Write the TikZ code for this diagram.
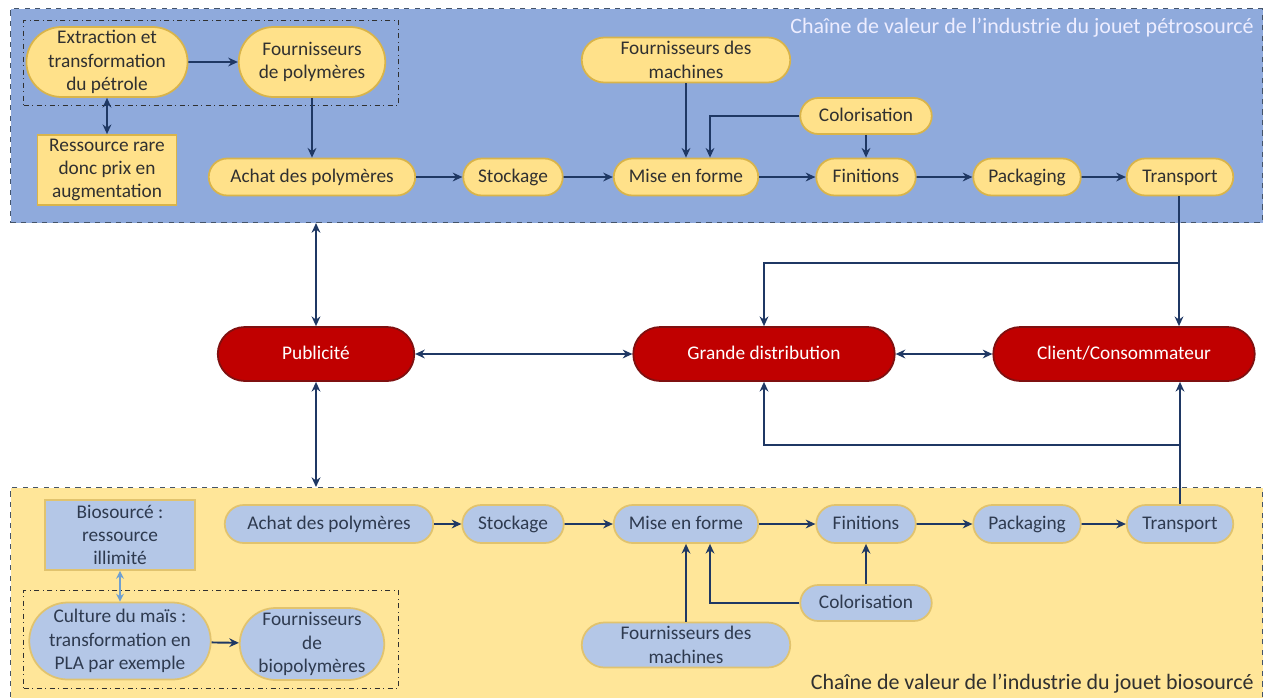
\documentclass[tikz,border=0pt]{standalone}
\usepackage{fontspec}
\setmainfont{Carlito}
\usetikzlibrary{arrows.meta,shapes.misc,calc}

\definecolor{panelblue}{HTML}{8FAADC}
\definecolor{panelyellow}{HTML}{FFE699}
\definecolor{nodeyellow}{HTML}{FFE18A}
\definecolor{nodegold}{HTML}{D9B44A}
\definecolor{nodeblue}{HTML}{B4C7E7}
\definecolor{redfill}{HTML}{C00000}
\definecolor{redline}{HTML}{7F1010}
\definecolor{navy}{HTML}{1F3864}
\definecolor{lightarrow}{HTML}{6FA0D0}
\definecolor{darktext}{HTML}{303030}
\definecolor{bluetext}{HTML}{2E3A4F}
\definecolor{frameline}{HTML}{44546A}

\tikzset{
  x=0.02cm, y=-0.02cm,
  basefont/.style={font=\fontsize{11}{13.3}\selectfont, align=center, inner sep=1pt},
  one/.style={text height=0.7em, text depth=0.1em},
  pill/.style={basefont, rounded rectangle, line width=1pt},
  ypill/.style={pill, fill=nodeyellow, draw=nodegold, text=darktext},
  bpill/.style={pill, fill=nodeblue, draw=nodegold!80!white, text=bluetext},
  ybox/.style={basefont, rectangle, fill=nodeyellow, draw=nodegold, line width=1pt, text=darktext},
  bbox/.style={basefont, rectangle, fill=nodeblue, draw=nodegold!80!white, line width=1pt, text=bluetext},
  rpill/.style={pill, one, fill=redfill, draw=redline, text=white},
  panel/.style={rectangle, draw=frameline, dashed, line width=0.6pt, inner sep=0pt},
  group/.style={rectangle, draw=darktext, dash dot, line width=0.6pt, inner sep=0pt},
  conn/.style={draw=navy, line width=1.1pt, -{Stealth[length=5.5pt,width=5pt]}},
  bconn/.style={draw=navy, line width=1.1pt, {Stealth[length=5.5pt,width=5pt]}-{Stealth[length=5.5pt,width=5pt]}},
  lconn/.style={draw=lightarrow, line width=0.9pt, {Stealth[length=4.5pt,width=4.5pt]}-{Stealth[length=4.5pt,width=4.5pt]}},
  ttl/.style={font=\fontsize{12.5}{14}\selectfont, inner sep=0pt},
}

\begin{document}
\begin{tikzpicture}
\useasboundingbox (0,0) rectangle (1264,697);

% panels
\node[panel, fill=panelblue, minimum width=1252*0.02cm, minimum height=214*0.02cm, anchor=north west] (topP) at (10,8) {};
\node[panel, fill=panelyellow, minimum width=1252*0.02cm, minimum height=212*0.02cm, anchor=north west] (botP) at (10,487) {};
\node[ttl, text=white!93!blue, anchor=east] (topT) at (1254,28) {Chaîne de valeur de l’industrie du jouet pétrosourcé};
\node[ttl, text=darktext, anchor=east] (botT) at (1254,684) {Chaîne de valeur de l’industrie du jouet biosourcé};

% raw-material groups
\node[group, minimum width=375*0.02cm, minimum height=85*0.02cm, anchor=north west] (gTop) at (23,20) {};
\node[group, minimum width=375*0.02cm, minimum height=98*0.02cm, anchor=north west] (gBot) at (23,590) {};

% petro-sourced chain
\node[ypill, minimum width=159*0.02cm, minimum height=70*0.02cm] (ext) at (107,62) {Extraction et\\transformation\\du pétrole};
\node[ypill, minimum width=150*0.02cm, minimum height=70*0.02cm] (fp) at (312,62) {Fournisseurs\\de polymères};
\node[ybox, minimum width=139*0.02cm, minimum height=70*0.02cm] (res) at (107,170) {Ressource rare\\donc prix en\\augmentation};
\node[ypill, one, minimum width=210*0.02cm, minimum height=37*0.02cm] (achT) at (312,177) {Achat des polymères};
\node[ypill, one, minimum width=103*0.02cm, minimum height=37*0.02cm] (stoT) at (513,177) {Stockage};
\node[ypill, one, minimum width=148*0.02cm, minimum height=37*0.02cm] (misT) at (686,177) {Mise en forme};
\node[ypill, minimum width=212*0.02cm, minimum height=45*0.02cm] (machT) at (686,60) {Fournisseurs des\\machines};
\node[ypill, one, minimum width=135*0.02cm, minimum height=36*0.02cm] (colT) at (866,116) {Colorisation};
\node[ypill, one, minimum width=103*0.02cm, minimum height=37*0.02cm] (finT) at (866,177) {Finitions};
\node[ypill, one, minimum width=111*0.02cm, minimum height=37*0.02cm] (pakT) at (1027,177) {Packaging};
\node[ypill, one, minimum width=110*0.02cm, minimum height=37*0.02cm] (traT) at (1180,177) {Transport};

% market
\node[rpill, minimum width=200*0.02cm, minimum height=54*0.02cm] (pub) at (316,354) {Publicité};
\node[rpill, minimum width=265*0.02cm, minimum height=54*0.02cm] (gd) at (764,354) {Grande distribution};
\node[rpill, minimum width=265*0.02cm, minimum height=54*0.02cm] (cc) at (1124,354) {Client/Consommateur};

% bio-sourced chain
\node[bbox, minimum width=150*0.02cm, minimum height=70*0.02cm] (bio) at (120,535) {Biosourcé :\\ressource\\illimité};
\node[bpill, one, minimum width=212*0.02cm, minimum height=38*0.02cm] (achB) at (329,524) {Achat des polymères};
\node[bpill, one, minimum width=105*0.02cm, minimum height=38*0.02cm] (stoB) at (513,524) {Stockage};
\node[bpill, one, minimum width=148*0.02cm, minimum height=38*0.02cm] (misB) at (686,524) {Mise en forme};
\node[bpill, one, minimum width=103*0.02cm, minimum height=38*0.02cm] (finB) at (866,524) {Finitions};
\node[bpill, one, minimum width=111*0.02cm, minimum height=38*0.02cm] (pakB) at (1027,524) {Packaging};
\node[bpill, one, minimum width=110*0.02cm, minimum height=38*0.02cm] (traB) at (1180,524) {Transport};
\node[bpill, one, minimum width=135*0.02cm, minimum height=36*0.02cm] (colB) at (866,603) {Colorisation};
\node[bpill, minimum width=212*0.02cm, minimum height=45*0.02cm] (machB) at (686,645) {Fournisseurs des\\machines};
\node[bpill, minimum width=185*0.02cm, minimum height=77*0.02cm] (cul) at (120,641) {Culture du maïs :\\transformation en\\PLA par exemple};
\node[bpill, minimum width=148*0.02cm, minimum height=72*0.02cm] (fbio) at (312,644) {Fournisseurs\\de\\biopolymères};

% connectors: petro-sourced chain
\draw[conn] (ext) -- (fp);
\draw[bconn] (ext.south) -- (res.north);
\draw[conn] (fp.south) -- (achT.north);
\draw[conn] (achT) -- (stoT);
\draw[conn] (stoT) -- (misT);
\draw[conn] (misT) -- (finT);
\draw[conn] (finT) -- (pakT);
\draw[conn] (pakT) -- (traT);
\draw[conn] (machT.south) -- (misT.north);
\coordinate (colTbend) at (710,116);
\draw[conn] (colT.west) -- (colTbend) -- (colTbend |- misT.north);
\draw[conn] (colT.south) -- (finT.north);

% connectors: distribution
\coordinate (topSplit) at (1179,263);
\draw[conn] (traT.south -| topSplit) -- (topSplit |- cc.north);
\draw[conn] (topSplit) -| (gd.north);
\draw[bconn] (pub.north |- topP.south) -- (pub.north);
\draw[bconn] (pub.south) -- (pub.south |- botP.north);
\draw[bconn] (pub) -- (gd);
\draw[bconn] (gd) -- (cc);
\coordinate (botSplit) at (1180,445);
\draw[conn] (traB.north) -- (botSplit |- cc.south);
\draw[conn] (botSplit) -| (gd.south);

% connectors: bio-sourced chain
\draw[conn] (achB) -- (stoB);
\draw[conn] (stoB) -- (misB);
\draw[conn] (misB) -- (finB);
\draw[conn] (finB) -- (pakB);
\draw[conn] (pakB) -- (traB);
\draw[conn] (machB.north) -- (misB.south);
\coordinate (colBbend) at (710,603);
\draw[conn] (colB.west) -- (colBbend) -- (colBbend |- misB.south);
\draw[conn] (colB.north) -- (finB.south);
\draw[conn] (cul) -- (fbio);
\draw[lconn] (bio.south) -- (cul.north);
\end{tikzpicture}
\end{document}
